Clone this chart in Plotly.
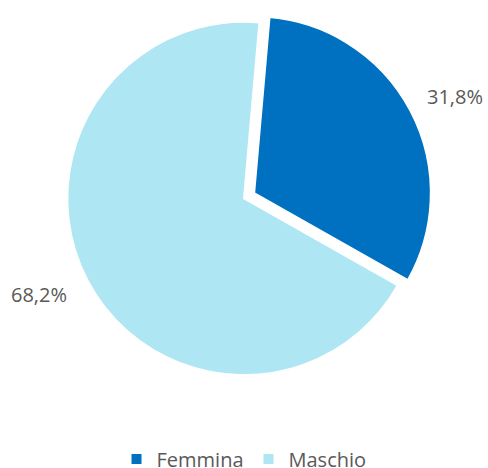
import plotly.graph_objects as go

labels = ["Femmina", "Maschio"]
values = [31.8, 68.2]
colors = ["#0070C0", "#AEE6F3"]
pulls = [0.065, 0.0]
label_pos = [(0.932, 0.793), (0.08, 0.370)]

fig = go.Figure()
fig.add_trace(go.Pie(
    labels=labels, values=values, sort=False, direction="clockwise", rotation=5,
    pull=pulls, marker=dict(colors=colors, line=dict(color="white", width=2)),
    textinfo="none", hoverinfo="label+percent",
    domain=dict(x=[0.0, 1.0], y=[0.174, 0.978]),
))
for v, (x, y) in zip(values, label_pos):
    fig.add_annotation(x=x, y=y, xref="paper", yref="paper", xanchor="center", yanchor="middle",
                       text=f"{v:.1f}%".replace(".", ","), showarrow=False,
                       font=dict(family="Open Sans", size=20, color="#595959"))
fig.update_layout(
    width=488, height=468, margin=dict(l=0, r=0, t=0, b=0, autoexpand=False),
    paper_bgcolor="white", plot_bgcolor="white",
    showlegend=True,
    legend=dict(orientation="h", x=0.5, xanchor="center", y=0.019, yanchor="middle",
                font=dict(family="Open Sans", size=20, color="#595959"),
                itemwidth=30, traceorder="normal"),
)
fig.write_html("out.html", config={"displayModeBar": False},
               post_script="document.body.style.margin='0';")
